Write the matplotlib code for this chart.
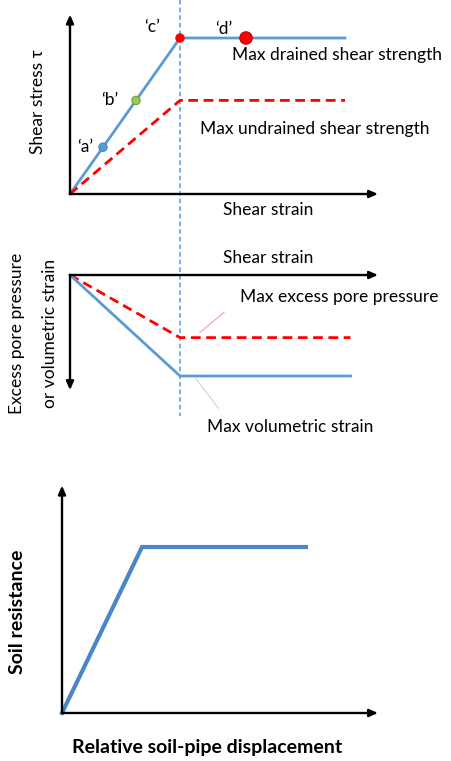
import numpy as np
import matplotlib.pyplot as plt

plt.rcParams['font.family'] = ['Lato', 'DejaVu Sans']

# shear stress vs shear strain (drained / undrained)
strain = [0.0, 1.0, 2.5]
stress_drained = [0.0, 1.0, 1.0]
stress_undrained = [0.0, 0.6, 0.6]
point_strain = [0.3, 0.6, 1.0, 1.6]
point_stress = [0.3, 0.6, 1.0, 1.0]
point_labels = ["\u2018a\u2019", "\u2018b\u2019", "\u2018c\u2019", "\u2018d\u2019"]
point_colors = ['#5B9BD5', '#92D050', '#FF0000', '#FF0000']
point_sizes = [36, 36, 36, 80]

# excess pore pressure / volumetric strain vs shear strain
pore = [0.0, -0.62, -0.62]
vol_strain = [0.0, -1.0, -1.0]
strain_vol = [0.0, 1.0, 2.55]

# soil resistance vs relative displacement
disp = [0.0, 1.0, 3.05]
resistance = [0.0, 1.0, 1.0]

W, H = 451, 761
fig = plt.figure(figsize=(W / 100, H / 100), dpi=100)

BLUE = '#5B9BD5'
RED = '#FF0000'
FS = 12.5


def panel(ox, oy, sx, sy):
    """Full-figure axes whose data origin sits at pixel (ox, oy)."""
    ax = fig.add_axes([0, 0, 1, 1], facecolor='none')
    ax.set_xlim(-ox / sx, (W - ox) / sx)
    ax.set_ylim((oy - H) / sy, oy / sy)
    ax.axis('off')
    return ax


def arrow(ax, x0, y0, x1, y1):
    ax.annotate('', xy=(x1, y1), xytext=(x0, y0),
                arrowprops=dict(arrowstyle='-|>,head_length=0.5,head_width=0.22',
                                color='black', lw=1.7, shrinkA=0, shrinkB=0))


# --- top: stress-strain ---
ax1 = panel(70, 194, 110, 156)
arrow(ax1, 0, 0, 2.8, 0)
arrow(ax1, 0, 0, 0, 1.15)
ax1.plot([1.0, 1.0], [1.244, -1.42], color=BLUE, lw=1.1, ls=(0, (3, 2)), zorder=1)
ax1.plot(strain, stress_drained, color=BLUE, lw=2.0, zorder=2)
ax1.plot(strain, stress_undrained, color=RED, lw=2.0, ls=(0, (3.5, 2)), zorder=2)
ax1.scatter(point_strain, point_stress, s=point_sizes, c=point_colors,
            edgecolors=['#4A86C0', '#6E9E3A', '#FF0000', '#C00000'], linewidths=0.8, zorder=3)
offsets = [(-0.16, 0.0), (-0.24, 0.0), (-0.25, 0.07), (-0.2, 0.06)]
for x, y, lab, (dx, dy) in zip(point_strain, point_stress, point_labels, offsets):
    ax1.text(x + dx, y + dy, lab, fontsize=FS, ha='center', va='center')
ax1.text(1.47, 0.89, 'Max drained shear strength', fontsize=FS, va='center')
ax1.text(1.18, 0.415, 'Max undrained shear strength', fontsize=FS, va='center')
ax1.text(1.8, -0.1, 'Shear strain', fontsize=FS, ha='center', va='center')
ax1.text(-0.29, 0.59, 'Shear stress \u03c4', fontsize=FS, rotation=90, ha='center', va='center')

# --- middle: pore pressure / volumetric strain ---
ax2 = panel(70, 275, 110, 101)
arrow(ax2, 0, 0, 2.8, 0)
arrow(ax2, 0, 0, 0, -1.14)
ax2.plot(strain_vol, pore, color=RED, lw=2.0, ls=(0, (3.5, 2)), zorder=2)
ax2.plot(strain_vol, vol_strain, color=BLUE, lw=2.0, zorder=2)
ax2.plot([1.18, 1.40], [-0.57, -0.37], color='#F4A0A0', lw=0.8)
ax2.plot([1.14, 1.35], [-1.02, -1.32], color='#BDD7EE', lw=0.8)
ax2.text(1.55, -0.22, 'Max excess pore pressure', fontsize=FS, va='center')
ax2.text(1.25, -1.5, 'Max volumetric strain', fontsize=FS, va='center')
ax2.text(1.8, 0.17, 'Shear strain', fontsize=FS, ha='center', va='center')
ax2.text(-0.48, -0.58, 'Excess pore pressure', fontsize=FS, rotation=90, ha='center', va='center')
ax2.text(-0.18, -0.58, 'or volumetric strain', fontsize=FS, rotation=90, ha='center', va='center')

# --- bottom: soil resistance ---
ax3 = panel(62, 713, 80, 166)
arrow(ax3, 0, 0, 3.95, 0)
arrow(ax3, 0, 0, 0, 1.37)
ax3.plot(disp, resistance, color='#4A86C8', lw=3.0, solid_joinstyle='miter', zorder=2)
ax3.text(-0.55, 0.61, 'Soil resistance', fontsize=14, fontweight='bold', rotation=90,
         ha='center', va='center')
ax3.text(1.81, -0.21, 'Relative soil-pipe displacement', fontsize=14, fontweight='bold',
         ha='center', va='center')

fig.savefig('out.png', dpi=100)
